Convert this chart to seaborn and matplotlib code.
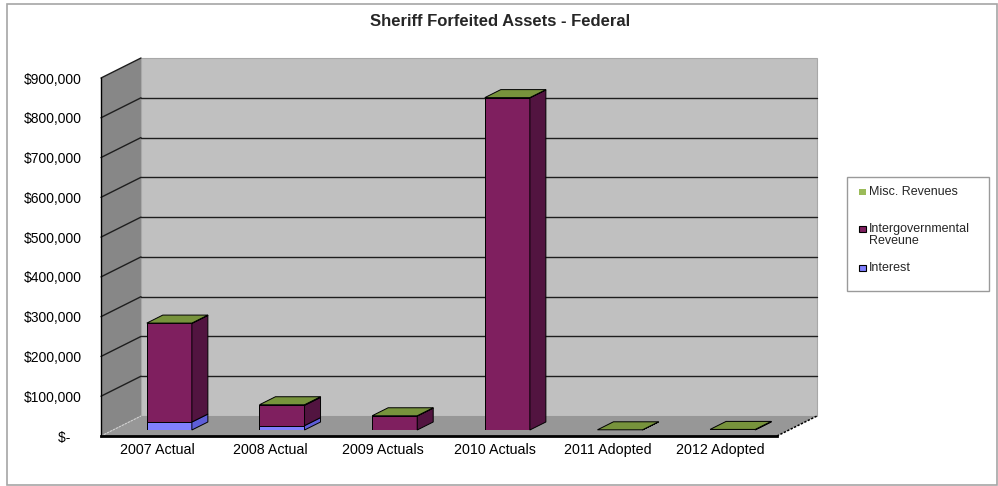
import matplotlib
matplotlib.use("Agg")
import matplotlib.pyplot as plt
from matplotlib.patches import Polygon, Rectangle
import numpy as np
import pandas as pd
import seaborn as sns

# ---- data -------------------------------------------------------------
years = ["2007 Actual", "2008 Actual", "2009 Actuals", "2010 Actuals",
         "2011 Adopted", "2012 Adopted"]
interest = [20000, 11000, 0, 0, 0, 1000]
intergovernmental = [248000, 51000, 35000, 835000, 0, 0]
misc_revenues = [800, 1500, 800, 600, 500, 500]

series_names = ["Misc. Revenues", "Intergovernmental\nReveune", "Interest"]
y_ticks = [0, 100000, 200000, 300000, 400000, 500000, 600000, 700000,
           800000, 900000]
y_tick_labels = ["$-   ", "$100,000", "$200,000", "$300,000", "$400,000",
                 "$500,000", "$600,000", "$700,000", "$800,000", "$900,000"]
title = "Sheriff Forfeited Assets - Federal"

# ---- colours ------------------------------------------------------------
misc_color, misc_top = "#9BBB59", "#77933C"
gov_color, gov_side = "#7F1F5F", "#521440"
int_color, int_side = "#8080FF", "#5E5ED8"

sns.set_style("white")
plt.rcParams["font.family"] = ["Liberation Sans", "DejaVu Sans"]

W, H = 998, 486
fig = plt.figure(figsize=(W / 100, H / 100), dpi=100)


def fig_box(left, top, right, bottom):
    return [left / W, 1 - bottom / H, (right - left) / W, (bottom - top) / H]


# front plane of the 3-D box
PL, PT, PR, PB = 101, 78, 777, 436
ax = fig.add_axes(fig_box(PL, PT, PR, PB))
n = len(years)
ymax = y_ticks[-1]
ax.set_xlim(-0.5, n - 0.5)
ax.set_ylim(0, ymax)
ax.patch.set_visible(False)

xs = n / (PR - PL)           # data units per pixel, x
ys = ymax / (PB - PT)        # data units per pixel, y
dxw, dyw = 40 * xs, 20 * ys  # full depth of the box

x0, x1 = -0.5, n - 0.5
back = Polygon([(x0 + dxw, dyw), (x1 + dxw, dyw), (x1 + dxw, ymax + dyw),
                (x0 + dxw, ymax + dyw)], fc="#C0C0C0", ec="#A8A8A8", lw=0.8,
               clip_on=False, zorder=0.2)
side = Polygon([(x0, 0), (x0 + dxw, dyw), (x0 + dxw, ymax + dyw), (x0, ymax)],
               fc="#878787", ec="none", clip_on=False, zorder=0.2)
floor = Polygon([(x0, 0), (x1, 0), (x1 + dxw, dyw), (x0 + dxw, dyw)],
                fc="#979797", ec="none", clip_on=False, zorder=0.2)
for p in (back, side, floor):
    ax.add_patch(p)

for v in y_ticks[1:-1]:
    ax.plot([x0 + dxw, x1 + dxw], [v + dyw, v + dyw], color="#1E1E1E", lw=1,
            clip_on=False, zorder=0.4)
for v in y_ticks[1:]:
    ax.plot([x0, x0 + dxw], [v, v + dyw], color="#1E1E1E", lw=1,
            clip_on=False, zorder=0.4)
ax.plot([x0, x0 + dxw], [0, dyw], color="#D0D0D0", lw=0.8, ls=(0, (2, 1)),
        clip_on=False, zorder=0.4)
ax.plot([x1, x1 + dxw], [0, dyw], color="black", lw=1.1, ls=(0, (1.5, 1)),
        clip_on=False, zorder=0.4)

ax.set_yticks(y_ticks, labels=y_tick_labels)
ax.set_xticks(range(n), labels=years)
ax.set_xticks(np.arange(-0.5, n, 1), minor=True)
ax.tick_params(axis="y", length=4, width=0.8, color="black", pad=10,
               labelsize=10, labelcolor="black")
ax.tick_params(axis="x", which="major", length=0, pad=5, labelsize=10.3,
               labelcolor="black")
ax.tick_params(axis="x", which="minor", length=4, width=0.8, color="#9A9A9A")
for s in ("top", "right"):
    ax.spines[s].set_visible(False)
ax.spines["left"].set_color("black")
ax.spines["left"].set_linewidth(1)
ax.spines["bottom"].set_color("black")
ax.spines["bottom"].set_linewidth(2)

# ---- columns, drawn in a plane 30% into the box --------------------------
ax2 = fig.add_axes(fig_box(PL + 12, PT - 6, PR + 12, PB - 6))
df = pd.DataFrame({"year": years, "interest": interest,
                   "intergov": intergovernmental, "misc": misc_revenues})
df["lower"] = df["interest"] + df["intergov"]
df["total"] = df["lower"] + df["misc"]

bar_w = 0.4
for col, color in (("total", misc_color), ("lower", gov_color),
                   ("interest", int_color)):
    sns.barplot(data=df, x="year", y=col, order=years, color=color,
                width=bar_w, saturation=1, errorbar=None, edgecolor="black",
                linewidth=0.7, ax=ax2)
ax2.set_xlim(-0.5, n - 0.5)
ax2.set_ylim(0, ymax)
ax2.axis("off")
ax2.patch.set_visible(False)

bdx, bdy = 16 * xs, 8 * ys   # depth of a column
for i, row in df.iterrows():
    xl, xr = i - bar_w / 2, i + bar_w / 2
    segs = [(0, row["interest"], int_side),
            (row["interest"], row["lower"], gov_side),
            (row["lower"], row["total"], misc_top)]
    for lo, hi, c in segs:
        if hi > lo:
            ax2.add_patch(Polygon([(xr, lo), (xr + bdx, lo + bdy),
                                   (xr + bdx, hi + bdy), (xr, hi)],
                                  fc=c, ec="black", lw=0.7, clip_on=False))
    top = row["total"]
    ax2.add_patch(Polygon([(xl, top), (xr, top), (xr + bdx, top + bdy),
                           (xl + bdx, top + bdy)], fc=misc_top, ec="black",
                          lw=0.7, clip_on=False))

# ---- title, legend, frame -------------------------------------------------
fig.text(500 / W, 1 - 22 / H, title, ha="center", va="center",
         fontsize=12, fontweight="bold")

fig.patches.append(Rectangle((847 / W, 1 - 291 / H), 142 / W, 114 / H,
                             transform=fig.transFigure, fill=False,
                             ec="#9A9A9A", lw=1))
legend_rows = [(series_names[0], misc_color, 192, "none"),
               (series_names[1], gov_color, 229, "black"),
               (series_names[2], int_color, 268, "black")]
for label, color, yc, ec in legend_rows:
    fig.patches.append(Rectangle((859 / W, 1 - (yc + 3) / H), 7 / W, 6 / H,
                                 transform=fig.transFigure, fc=color,
                                 ec=ec, lw=0.8))
    fig.text(869 / W, 1 - (yc - 6) / H, label, ha="left", va="top",
             fontsize=9, linespacing=0.95)

fig.patches.append(Rectangle((7 / W, 1 - 485 / H), 990 / W, 481 / H,
                             transform=fig.transFigure, fill=False,
                             ec="#A6A6A6", lw=1.2))

fig.savefig("out.png", dpi=100)
